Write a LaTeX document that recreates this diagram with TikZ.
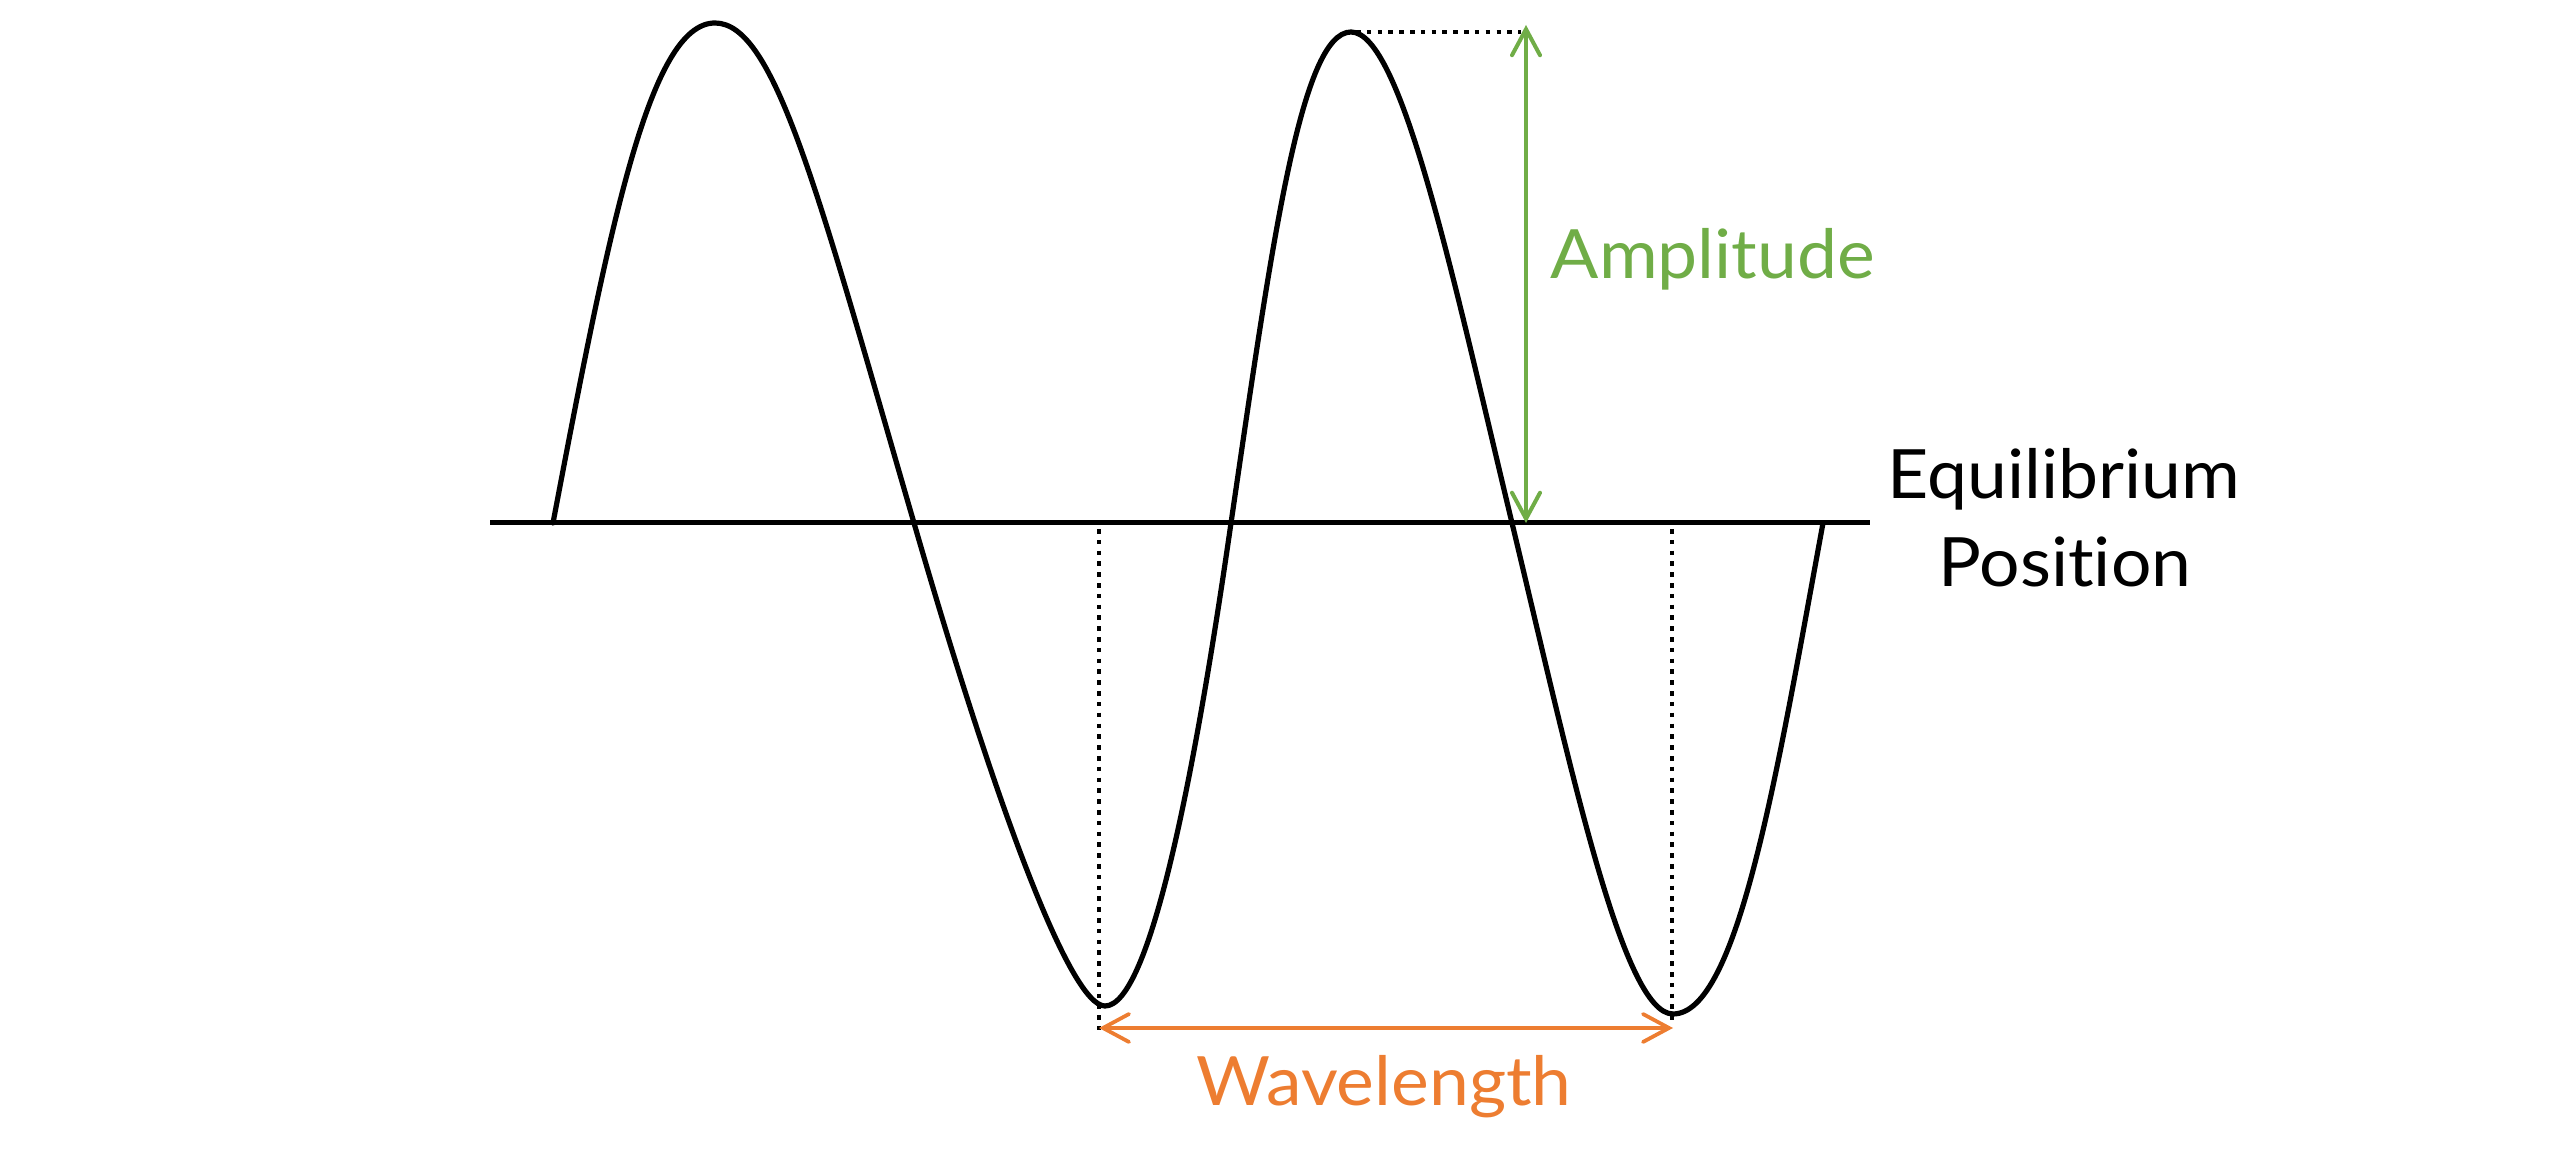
\documentclass[tikz,border=0pt]{standalone}
\usepackage{fontspec}
\setmainfont{Lato}[Ligatures=NoCommon]
\usetikzlibrary{arrows.meta}
\definecolor{ampgreen}{RGB}{112,173,71}
\definecolor{waveorange}{RGB}{237,125,49}
\newcommand{\widetext}[1]{\scalebox{1.05}[1]{#1}}
\begin{document}
\begin{tikzpicture}[x=0.01cm,y=-0.01cm,
  waveline/.style={line width=0.052cm,black,line join=round,line cap=round},
  baseline/.style={line width=0.05cm,black},
  dotline/.style={line width=0.048cm,black,dash pattern=on 0.046cm off 0.062cm},
  barbtip/.tip={Straight Barb[length=0.26cm,width=0.28cm,line cap=round]},
  amparrow/.style={line width=0.04cm,ampgreen,barbtip-barbtip},
  wlarrow/.style={line width=0.038cm,waveorange,barbtip-barbtip},
  lbl/.style={inner sep=0pt,font=\fontsize{19.35pt}{23pt}\selectfont}]
\useasboundingbox (0,0) rectangle (2560,1168);
% key points
\coordinate (bl) at (490,523);
\coordinate (br) at (1870,523);
\coordinate (w0) at (553,523);
\coordinate (w1) at (715,23);
\coordinate (w2) at (914,523);
\coordinate (w3) at (1105,1006);
\coordinate (w4) at (1231,523);
\coordinate (w5) at (1351,32);
\coordinate (w6) at (1512,523);
\coordinate (w7) at (1673,1014);
\coordinate (w8) at (1823,523);
\coordinate (dtopstart) at (1356,32);
\coordinate (dtopend) at (1521,32);
\coordinate (amptop) at (1526,25);
\coordinate (ampbot) at (1526,523);
\coordinate (d1top) at (1099,529);
\coordinate (d1bot) at (1099,1030);
\coordinate (d2top) at (1672,529);
\coordinate (d2bot) at (1672,1021);
\coordinate (wl1) at (1099,1028);
\coordinate (wl2) at (1673,1028);
% equilibrium line
\draw[baseline] (bl) -- (br);
% wave
\draw[waveline] (w0)
  .. controls (610,223) and (650,23) .. (w1)
  .. controls (775,23) and (818,193) .. (w2)
  .. controls (995,803) and (1070,1006) .. (w3)
  .. controls (1150,1006) and (1195,773) .. (w4)
  .. controls (1272,243) and (1301,32) .. (w5)
  .. controls (1401,32) and (1452,273) .. (w6)
  .. controls (1572,773) and (1623,1014) .. (w7)
  .. controls (1738,1014) and (1777,773) .. (w8);
% dotted guides
\draw[dotline] (dtopstart) -- (dtopend);
\draw[dotline] (d1top) -- (d1bot);
\draw[dotline] (d2top) -- (d2bot);
% arrows
\draw[amparrow] (ampbot) -- (amptop);
\draw[wlarrow] (wl1) -- (wl2);
% labels
\node[lbl,text=ampgreen,anchor=base west] (amp) at (1550,279) {\widetext{Amplitude}};
\node[lbl,anchor=base] (eq) at (2064,499) {\widetext{Equilibrium}};
\node[lbl,anchor=base] (pos) at (2065,587) {\widetext{Position}};
\node[lbl,text=waveorange,anchor=base] (wl) at (1384,1106) {\widetext{Wavelength}};
\end{tikzpicture}
\end{document}
